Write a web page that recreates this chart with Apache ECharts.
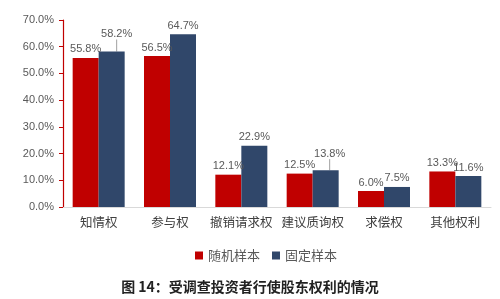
<!DOCTYPE html>
<html><head><meta charset="utf-8">
<script src="https://cdn.jsdelivr.net/npm/echarts@6/dist/echarts.min.js"></script>
<style>html,body{margin:0;padding:0;background:#fff}#c{width:500px;height:299px}</style>
</head><body><div id="c"></div>
<script>
const categories = ['知情权','参与权','撤销请求权','建议质询权','求偿权','其他权利'];
const randomSample = [55.8, 56.5, 12.1, 12.5, 6.0, 13.3];
const fixedSample = [58.2, 64.7, 22.9, 13.8, 7.5, 11.6];
const yTicks = [0, 10, 20, 30, 40, 50, 60, 70];
const raisedLabels = [0, 3];

const chart = echarts.init(document.getElementById('c'));
const lbl = {show:true, position:'top', distance:3, color:'#595959', fontSize:11, fontFamily:'Liberation Sans, Arial, sans-serif', formatter: p => p.value.toFixed(1)+'%'};
chart.setOption({
  animation:false,
  grid:{left:63, right:9, top:20, bottom:92},
  title:{text:'图 14：受调查投资者行使股东权利的情况', left:'center', top:275, textStyle:{fontSize:14, fontWeight:'bold', color:'#222', fontFamily:'Noto Sans CJK SC'}},
  legend:{top:244, left:190, itemWidth:8, itemHeight:8, itemGap:12, textStyle:{fontSize:13, color:'#595959', fontFamily:'Noto Sans CJK SC'}, data:['随机样本','固定样本'], icon:'rect'},
  xAxis:{type:'category', data:categories, axisLine:{lineStyle:{color:'#d9d9d9'}}, axisTick:{show:false}, axisLabel:{interval:0, color:'#404040', fontSize:12.5, margin:9, fontFamily:'Noto Sans CJK SC'}},
  yAxis:{type:'value', min:0, max:yTicks[yTicks.length-1], interval:10, splitLine:{show:false},
    axisLine:{show:true, lineStyle:{color:'#c00000', width:1.2}}, axisTick:{show:true, length:4, lineStyle:{color:'#c00000'}},
    axisLabel:{color:'#595959', fontSize:11, margin:9, fontFamily:'Liberation Sans, Arial, sans-serif', formatter: v => v.toFixed(1)+'%'}},
  series:[
    {name:'随机样本', type:'bar', data:randomSample, barWidth:26, barGap:'0%', itemStyle:{color:'#c00000'}, label:lbl},
    {name:'固定样本', type:'bar', barWidth:26, barGap:'0%', itemStyle:{color:'#30476a'}, label:lbl,
     data: fixedSample.map((v,i) => ({value:v, labelLine:{show: raisedLabels.includes(i), lineStyle:{color:'#888', width:0.8}}})),
     labelLayout: p => (p.dataIndex===0 ? {dx:5, dy:-9} : p.dataIndex===3 ? {dx:4, dy:-8} : {})}
  ]
});
</script></body></html>
